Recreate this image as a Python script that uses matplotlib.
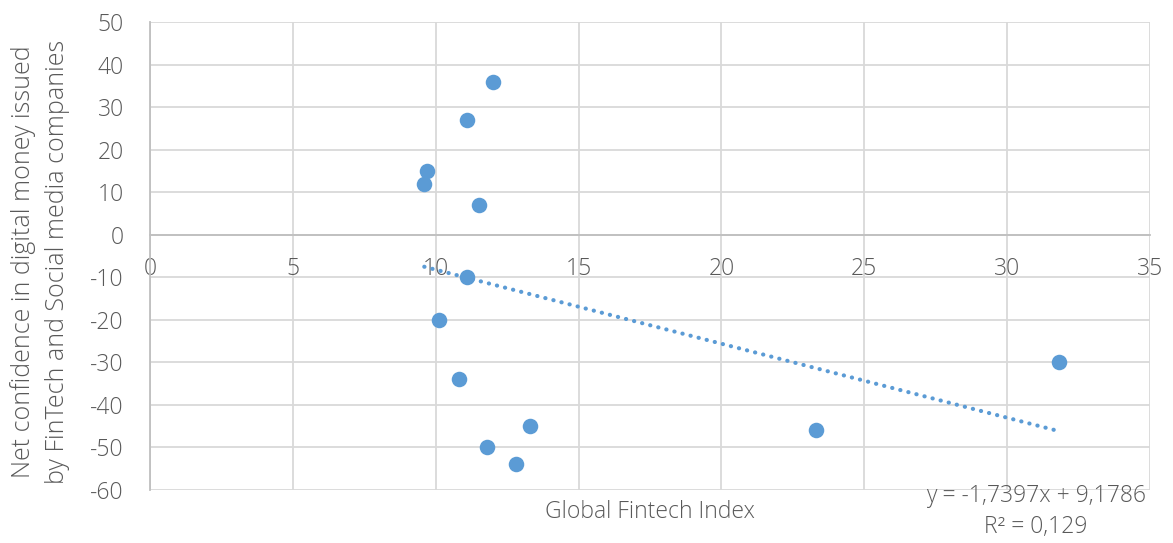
import matplotlib
matplotlib.use("Agg")
import matplotlib.pyplot as plt
import numpy as np

# Data
fintech_index = [12.0, 11.1, 9.7, 9.6, 11.5, 11.1, 10.1, 10.8, 13.3, 11.8, 12.8, 23.3, 31.8]
net_confidence = [36, 27, 15, 12, 7, -10, -20, -34, -45, -50, -54, -46, -30]
trend_slope = -1.7397
trend_intercept = 9.1786
r_squared_text = "R² = 0,129"
equation_text = "y = -1,7397x + 9,1786"
x_ticks = [0, 5, 10, 15, 20, 25, 30, 35]
y_ticks = [50, 40, 30, 20, 10, 0, -10, -20, -30, -40, -50, -60]

plt.rcParams['font.family'] = ['Open Sans', 'DejaVu Sans']
text_color = '#595959'
blue = '#5B9BD5'
fs = 16.5

fig = plt.figure(figsize=(11.73, 5.43), dpi=100)
ax = fig.add_axes([150/1173, 1 - 490/543, 1000/1173, 468/543])

ax.scatter(fintech_index, net_confidence, s=125, color=blue, zorder=3, linewidths=0)

xs = np.array([min(fintech_index), max(fintech_index)])
ax.plot(xs, trend_slope * xs + trend_intercept, color=blue, lw=3.0,
        linestyle=(0, (0.05, 1.95)), dash_capstyle='round', zorder=2)

ax.set_xlim(0, 35)
ax.set_ylim(-60, 50)
ax.set_xticks(x_ticks)
ax.set_xticklabels([str(v) for v in x_ticks])
ax.set_yticks(y_ticks)
ax.set_yticklabels([str(v) for v in y_ticks])

ax.grid(True, color='#d9d9d9', lw=1.3, zorder=0)
ax.set_axisbelow(True)
for s in ['top', 'right']:
    ax.spines[s].set_visible(False)
ax.spines['bottom'].set_position(('data', 0))
ax.spines['bottom'].set_color('#bfbfbf')
ax.spines['bottom'].set_linewidth(1.3)
ax.spines['left'].set_color('#bfbfbf')
ax.spines['left'].set_linewidth(1.3)

ax.tick_params(axis='both', length=0, labelsize=fs, labelcolor=text_color)
ax.tick_params(axis='x', pad=16)
ax.tick_params(axis='y', pad=19)
for lbl in ax.get_xticklabels() + ax.get_yticklabels():
    lbl.set_fontweight('light')

fig.text(650/1173, 1 - 512/543, "Global Fintech Index", ha='center', va='center',
         fontsize=fs, color=text_color, fontweight='light')
fig.text(40/1173, 1 - 262/543,
         "Net confidence in digital money issued\nby FinTech and Social media companies",
         ha='center', va='center', rotation=90, fontsize=18, color=text_color,
         fontweight='light', linespacing=1.45, multialignment='center')
fig.text(1036/1173, 1 - 496/543, equation_text, ha='center', va='center',
         fontsize=fs, color=text_color, fontweight='light')
fig.text(1036/1173, 1 - 527/543, r_squared_text, ha='center', va='center',
         fontsize=fs, color=text_color, fontweight='light')

fig.savefig("out.png", dpi=100)
